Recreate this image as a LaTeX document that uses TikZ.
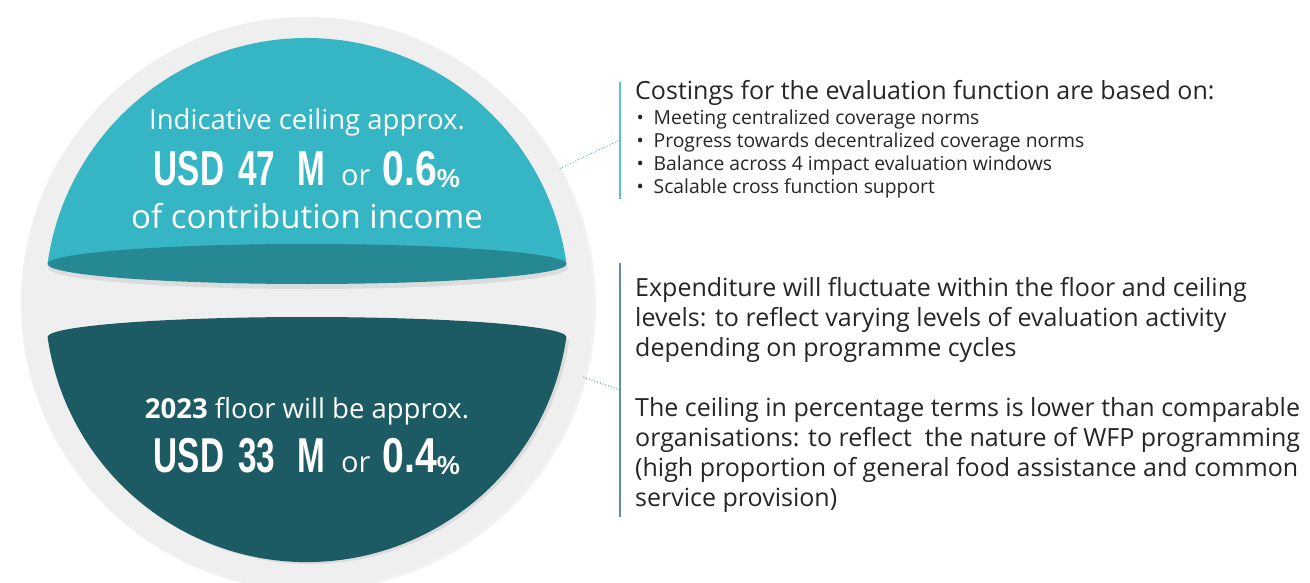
\documentclass[tikz,border=0pt]{standalone}
\usepackage{fontspec}
\usepackage{graphicx}
\setmainfont{Open Sans}
\newfontfamily\usdfont{Liberation Sans}
\usetikzlibrary{shadows}
\definecolor{ring}{HTML}{EFEFEF}
\definecolor{capblue}{HTML}{36B5C5}
\definecolor{capface}{HTML}{268893}
\definecolor{capdark}{HTML}{1C5B63}
\definecolor{bodytext}{HTML}{262626}
\definecolor{lineone}{HTML}{5CC0CF}
\definecolor{linetwo}{HTML}{5F8F97}
\definecolor{connone}{HTML}{3AB0C0}
\definecolor{conntwo}{HTML}{3B7A83}
\newcommand\bigusd[1]{\scalebox{0.68}[1]{\usdfont\bfseries\fontsize{49}{49}\selectfont #1}}
\newcommand\bignum[1]{\scalebox{0.8}[1]{\usdfont\bfseries\fontsize{49}{49}\selectfont #1}}
\newcommand\pct{\raisebox{-2pt}{\usdfont\bfseries\fontsize{26}{26}\selectfont\%}}
\newcommand\bul{\makebox[17.5pt][l]{\hspace{0.5pt}\textbullet}}
\begin{document}
\begin{tikzpicture}[x=1pt,y=1pt,
  captext/.style={text=white, inner sep=0pt, anchor=base},
  rtext/.style={text=bodytext, inner sep=0pt, anchor=base west, align=left},
  vline/.style={line width=1.3pt},
  conn/.style={line width=0.9pt, dotted}]
\useasboundingbox[fill=white] (0,0) rectangle (1310,-583);
% outer ring
\node[circle, minimum size=572pt, inner sep=0pt, fill=ring,
      drop shadow={opacity=0.10, shadow xshift=3pt, shadow yshift=-2pt}] (outer) at (307,-303) {};
% upper cap
\fill[black, opacity=0.08] (308,-268) ellipse [x radius=260, y radius=21];
\fill[capblue] (47.5,-264) arc[start angle=172.1, end angle=7.9, radius=262] -- cycle;
\fill[capface] (307,-264) ellipse [x radius=259.5, y radius=20];
% lower cap
\fill[black, opacity=0.08] (50.6,-339) arc[start angle=-171.9, end angle=-8.1, radius=262] -- cycle;
\fill[capdark] (47.6,-337) arc[start angle=-171.9, end angle=-8.1, radius=262] -- cycle;
\fill[capdark] (307,-337) ellipse [x radius=259.4, y radius=20];
% cap texts
\node[captext, font=\fontsize{27.5}{33}\selectfont] (ceil) at (307,-130) {Indicative ceiling approx.};
\node[captext] (usdup) at (307,-185.5) {\bigusd{USD}\hspace{14pt}\bigusd{47}\hspace{22pt}\bigusd{M}\hspace{16pt}{\fontsize{29}{29}\selectfont or}\hspace{12pt}\bignum{0.6}\pct};
\node[captext, font=\fontsize{33}{38}\selectfont] (contrib) at (307,-229) {of contribution income};
\node[captext, font=\fontsize{27.5}{33}\selectfont] (floor) at (307,-418.5) {\textbf{2023} floor will be approx.};
\node[captext] (usdlow) at (307,-472) {\bigusd{USD}\hspace{14pt}\bigusd{33}\hspace{22pt}\bigusd{M}\hspace{16pt}{\fontsize{29}{29}\selectfont or}\hspace{12pt}\bignum{0.4}\pct};
% right texts (base anchor = baseline of the last line)
\node[rtext, font=\fontsize{25}{30}\selectfont] (head) at (635,-99.5) {Costings for the evaluation function are based on:};
\node[rtext, font=\fontsize{19.3}{23.1}\selectfont] (bullets) at (636,-193.9)
  {\bul Meeting centralized coverage norms\\
   \bul Progress towards decentralized coverage norms\\
   \bul Balance across 4 impact evaluation windows\\
   \bul Scalable cross function support};
\node[rtext, font=\fontsize{25}{30}\selectfont] (expend) at (635,-356)
  {Expenditure will fluctuate within the floor and ceiling\\
   levels: to reflect varying levels of evaluation activity\\
   depending on programme cycles};
\node[rtext, font=\fontsize{25}{30}\selectfont] (ceilpct) at (635,-506)
  {The ceiling in percentage terms is lower than comparable\\
   organisations: to reflect\ \ the nature of WFP programming\\
   (high proportion of general food assistance and common\\
   service provision)};
% vertical rules and connectors
\coordinate (l1t) at (620,-82);
\coordinate (l1b) at (620,-199);
\coordinate (l2t) at (620,-263);
\coordinate (l2b) at (620,-517);
\coordinate (c1) at (620,-140);
\coordinate (c2) at (620,-390);
\draw[vline, lineone] (l1t) -- (l1b);
\draw[vline, linetwo] (l2t) -- (l2b);
\draw[conn, connone] (outer.28) -- (c1);
\draw[conn, conntwo] (outer.-15.5) -- (c2);
\end{tikzpicture}
\end{document}
